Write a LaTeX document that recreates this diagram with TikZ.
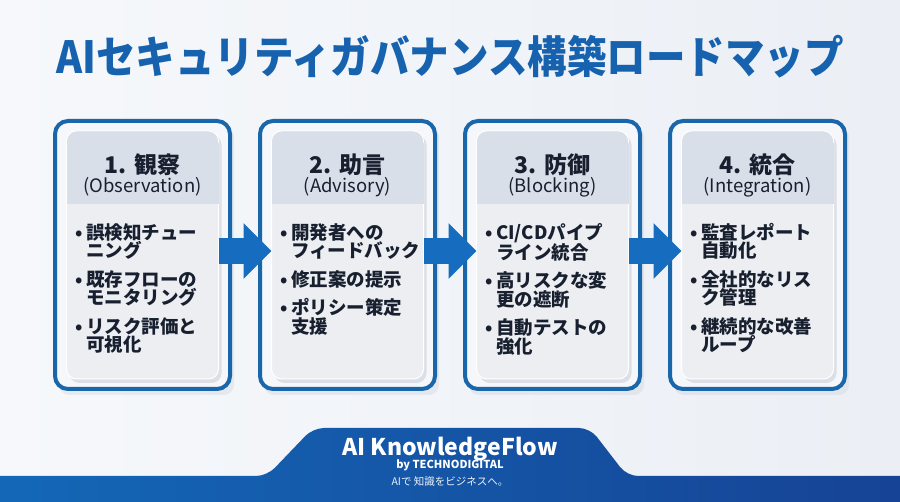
\documentclass[tikz,border=0pt]{standalone}
\usepackage{fontspec}
\setmainfont{Noto Sans CJK JP}
\usetikzlibrary{arrows.meta,calc}
\definecolor{bgleft}{RGB}{246,248,251}
\definecolor{bgright}{RGB}{235,239,245}
\definecolor{titleblue}{RGB}{22,98,174}
\definecolor{cardblue}{RGB}{26,102,170}
\definecolor{cardfill}{RGB}{245,247,250}
\definecolor{panelfill}{RGB}{236,238,242}
\definecolor{headfill}{RGB}{216,223,233}
\definecolor{inkdark}{RGB}{24,32,48}
\definecolor{arrowblue}{RGB}{22,108,190}
\definecolor{footleft}{RGB}{20,104,184}
\definecolor{footright}{RGB}{22,66,148}
\definecolor{shadegrey}{RGB}{190,196,206}
\newcommand{\bul}{•\,}
\newcommand{\ind}{\hphantom{•\,}}

\tikzset{
  cardframe/.style={draw=cardblue, line width=4pt, fill=cardfill, rounded corners=13pt,
    minimum width=175pt, minimum height=268pt, inner sep=0pt, outer sep=0pt},
  panel/.style={fill=panelfill, draw=white, line width=1pt, rounded corners=10pt,
    minimum width=152pt, minimum height=248pt, inner sep=0pt, outer sep=0pt},
  shadowbox/.style={panel, draw=none, fill=shadegrey, opacity=0.45},
  phasetitle/.style={text=inkdark, font=\bfseries\fontsize{23}{26}\selectfont, inner sep=0pt},
  phasesub/.style={text=inkdark, font=\fontsize{18.5}{20}\selectfont, inner sep=0pt},
  bulletlist/.style={anchor=north west, text=inkdark, text width=145pt, align=left,
    font=\bfseries\fontsize{18.5}{18.5}\selectfont, inner sep=0pt},
  flowarrow/.style={arrowblue, line width=26pt, -{Triangle[length=28pt,width=54pt]}},
}

% one phase card: #1 index, #2 x centre, #3 title, #4 subtitle, #5 bullet lines
\newcommand{\phasecard}[5]{%
  \node[shadowbox, minimum width=175pt, minimum height=268pt, opacity=0.25] (frameshade#1) at (#2+4,261) {};
  \node[cardframe] (card#1) at (#2,255) {};
  \node[shadowbox] (shade#1) at ([xshift=3pt,yshift=-4pt]card#1.center) {};
  \node[panel] (panel#1) at (card#1.center) {};
  \fill[headfill] ([yshift=-73pt]panel#1.north west) rectangle ([yshift=-12pt]panel#1.north east);
  \fill[headfill, rounded corners=10pt] ([shift={(0.5pt,-0.5pt)}]panel#1.north west) rectangle ([yshift=-30pt,xshift=-0.5pt]panel#1.north east);
  \node[phasetitle] (title#1) at ([yshift=-34pt]panel#1.north) {#3};
  \node[phasesub] (sub#1) at ([yshift=-56pt]panel#1.north) {#4};
  \node[bulletlist] (list#1) at ([xshift=9pt,yshift=-92pt]panel#1.north west) {#5};
}

\begin{document}
\begin{tikzpicture}[x=1pt, y=-1pt]
  \useasboundingbox (0,0) rectangle (900,502);
  \shade[left color=bgleft, right color=bgright] (0,0) rectangle (900,502);

  % Title
  \node[text=titleblue, font=\bfseries\fontsize{39.5}{44}\selectfont, inner sep=0pt]
    (heading) at (450,57) {\scalebox{1}[1.12]{AIセキュリティガバナンス構築ロードマップ}};

  % Phase cards
  \phasecard{1}{142.5}{1. 観察}{(Observation)}
    {\bul 誤検知チュー\\\ind ニング\\[10pt]\bul 既存フローの\\\ind モニタリング\\[10pt]\bul リスク評価と\\\ind 可視化}
  \phasecard{2}{347.5}{2. 助言}{(Advisory)}
    {\bul 開発者への\\\ind フィードバック\\[10pt]\bul 修正案の提示\\[10pt]\bul ポリシー策定\\\ind 支援}
  \phasecard{3}{552.5}{3. 防御}{(Blocking)}
    {\bul CI/CDパイプ\\\ind ライン統合\\[10pt]\bul 高リスクな変\\\ind 更の遮断\\[10pt]\bul 自動テストの\\\ind 強化}
  \phasecard{4}{757.5}{4. 統合}{(Integration)}
    {\bul 監査レポート\\\ind 自動化\\[10pt]\bul 全社的なリス\\\ind ク管理\\[10pt]\bul 継続的な改善\\\ind ループ}

  % Flow arrows
  \draw[flowarrow] ([yshift=4pt]panel1.east) -- ([yshift=4pt]panel2.west);
  \draw[flowarrow] ([yshift=4pt]panel2.east) -- ([yshift=4pt]panel3.west);
  \draw[flowarrow] ([yshift=4pt]panel3.east) -- ([yshift=4pt]panel4.west);

  % Footer band
  \shade[left color=footleft, right color=footright, rounded corners=11pt]
    (-20,476) -- (267,476) -- (313,428) -- (590,428) -- (627,476) -- (920,476)
    -- (920,520) -- (-20,520) -- cycle;
  \node[text=white, font=\bfseries\fontsize{23}{26}\selectfont, inner sep=0pt]
    (brand) at (450,449) {AI KnowledgeFlow};
  \node[text=white, font=\bfseries\fontsize{11}{13}\selectfont, inner sep=0pt]
    (byline) at (450,465) {by TECHNODIGITAL};
  \node[text=white!92!footleft, font=\fontsize{10.5}{12}\selectfont, inner sep=0pt]
    (tagline) at (450,482) {AIで 知識をビジネスへ。};
\end{tikzpicture}
\end{document}
